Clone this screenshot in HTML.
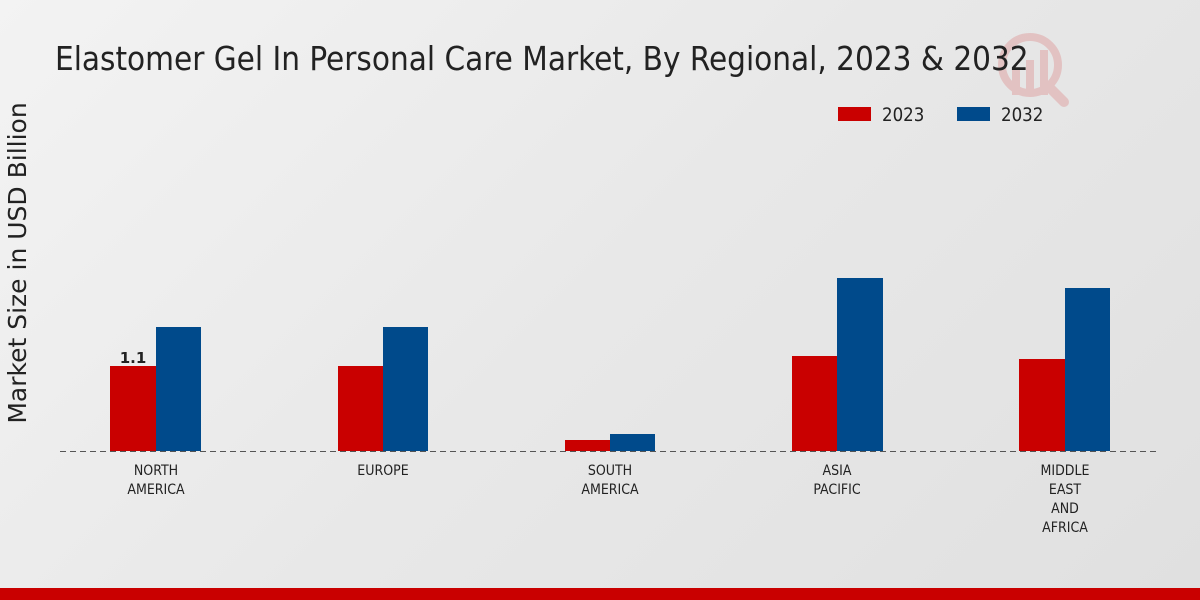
<!DOCTYPE html>
<html><head><meta charset="utf-8"><style>
html,body{margin:0;padding:0}
body{width:1200px;height:600px;overflow:hidden;background:linear-gradient(135deg,#f3f3f3 0%,#e8e8e8 50%,#e0e0e0 100%);position:relative;font-family:"DejaVu Sans Condensed","DejaVu Sans","Liberation Sans",sans-serif}
</style></head><body>
<svg width="1200" height="600" viewBox="0 0 1200 600" xmlns="http://www.w3.org/2000/svg" style="position:absolute;left:0;top:0">
<g opacity="0.15" fill="#c00">
<circle cx="1030" cy="65" r="28" fill="none" stroke="#c00" stroke-width="8"/>
<rect x="1012" y="70" width="8" height="25"/><rect x="1026" y="60" width="8" height="35"/><rect x="1040" y="50" width="8" height="45"/>
<line x1="1050" y1="88" x2="1064" y2="102" stroke="#c00" stroke-width="10" stroke-linecap="round"/>
</g>
<text x="55" y="70" font-size="32.9" fill="#222" font-family="DejaVu Sans Condensed, DejaVu Sans, sans-serif">Elastomer Gel In Personal Care Market, By Regional, 2023 &amp; 2032</text>
<rect x="838" y="107" width="33" height="14" fill="#c90000"/>
<text x="882" y="121" font-size="18.5" fill="#222">2023</text>
<rect x="957" y="107" width="33" height="14" fill="#004a8b"/>
<text x="1001" y="121" font-size="18.5" fill="#222">2032</text>
<text transform="translate(26,263) rotate(-90)" text-anchor="middle" font-size="25" fill="#222" font-family="DejaVu Sans, sans-serif">Market Size in USD Billion</text>
<g fill="#c90000">
<rect x="110" y="366" width="46" height="85"/><rect x="338" y="366" width="45" height="85"/><rect x="565" y="440" width="45" height="11"/><rect x="792" y="356" width="45" height="95"/><rect x="1019" y="359" width="46" height="92"/>
</g>
<g fill="#004a8b">
<rect x="156" y="327" width="45" height="124"/><rect x="383" y="327" width="45" height="124"/><rect x="610" y="434" width="45" height="17"/><rect x="837" y="278" width="46" height="173"/><rect x="1065" y="288" width="45" height="163"/>
</g>
<line x1="60" y1="451.5" x2="1160" y2="451.5" stroke="#555" stroke-dasharray="6,4" stroke-width="1"/>
<text x="133" y="363" text-anchor="middle" font-size="15" font-weight="bold" fill="#222" font-family="DejaVu Sans, sans-serif">1.1</text>
<g font-size="14" fill="#222" text-anchor="middle">
<text x="156" y="475">NORTH</text><text x="156" y="494">AMERICA</text>
<text x="383" y="475">EUROPE</text>
<text x="610" y="475">SOUTH</text><text x="610" y="494">AMERICA</text>
<text x="837" y="475">ASIA</text><text x="837" y="494">PACIFIC</text>
<text x="1065" y="475">MIDDLE</text><text x="1065" y="494">EAST</text><text x="1065" y="513">AND</text><text x="1065" y="532">AFRICA</text>
</g>
<rect x="0" y="588" width="1200" height="12" fill="#c90000"/>
</svg>
</body></html>
